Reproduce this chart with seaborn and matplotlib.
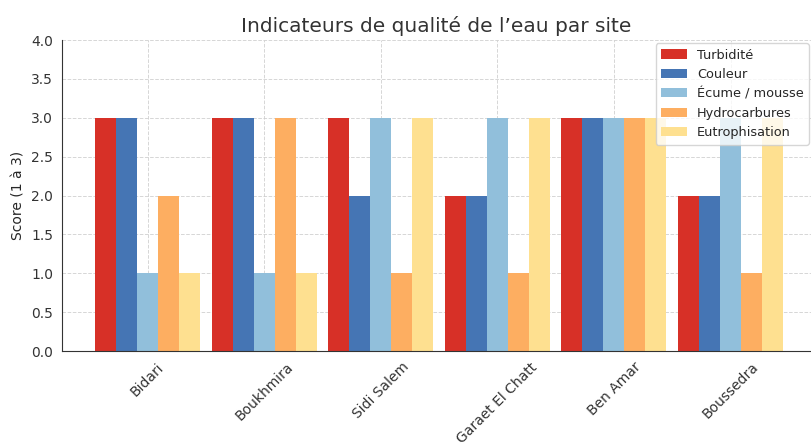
import pandas as pd
import matplotlib.pyplot as plt
import seaborn as sns

# ======================================================
# Data
# ======================================================

sites = ["Bidari", "Boukhmira", "Sidi Salem", "Garaet El Chatt", "Ben Amar", "Boussedra"]
indicators = ["Turbidité", "Couleur", "Écume / mousse", "Hydrocarbures", "Eutrophisation"]

turbidite = [3, 3, 3, 2, 3, 2]
couleur = [3, 3, 2, 2, 3, 2]
ecume = [1, 1, 3, 3, 3, 3]
hydrocarbures = [2, 3, 1, 1, 3, 1]
eutrophisation = [1, 1, 3, 3, 3, 3]

colors = ["#d73027", "#4575b4", "#91bfdb", "#fdae61", "#fee090"]

rows = []
for name, values in zip(indicators, [turbidite, couleur, ecume, hydrocarbures, eutrophisation]):
    for site, v in zip(sites, values):
        rows.append({"Site": site, "Indicateur": name, "Score": v})
df = pd.DataFrame(rows)

# ======================================================
# Plot
# ======================================================

sns.set_style("white")
plt.rcParams["font.family"] = ["DejaVu Sans"]

fig = plt.figure(figsize=(8.11, 4.44), dpi=100)
ax = fig.add_axes([62 / 811, 93 / 444, 1 - 62 / 811, (351 - 40) / 444])

sns.barplot(
    data=df, x="Site", y="Score", hue="Indicateur",
    hue_order=indicators, order=sites, palette=colors,
    width=0.9, saturation=1, linewidth=0, ax=ax, legend=True
)

ax.set_xlim(-0.734, 5.69)
ax.set_ylim(0, 4)
ax.set_yticks([i * 0.5 for i in range(9)])
ax.set_xlabel("")
ax.set_ylabel("Score (1 à 3)", fontsize=10)
ax.set_title("Indicateurs de qualité de l’eau par site", fontsize=14.5, color="#333333")
ax.tick_params(axis="x", rotation=45, labelsize=10, length=3, colors="#333333")
ax.tick_params(axis="y", labelsize=10, length=3, colors="#333333")

ax.grid(True, linestyle="--", color="#cccccc", linewidth=0.7, alpha=0.8)
ax.set_axisbelow(True)
sns.despine(ax=ax)
ax.spines["left"].set_color("#333333")
ax.spines["bottom"].set_color("#333333")

ax.legend(loc="upper right", bbox_to_anchor=(1.006, 1.01), fontsize=9.3,
          title=None, framealpha=0.8)

plt.savefig("out.png", dpi=100)
